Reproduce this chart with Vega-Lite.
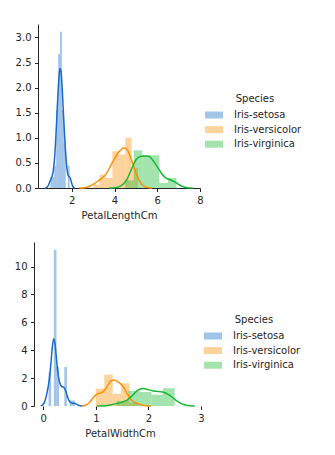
{
  "$schema": "https://vega.github.io/schema/vega-lite/v6.json",
  "padding": {"left": 14, "top": 24, "right": 0, "bottom": 0},
  "background": "white",
  "config": {
    "view": {"stroke": null},
    "font": "DejaVu Sans",
    "axis": {
      "grid": false,
      "domainColor": "#262626",
      "domainWidth": 1,
      "tickColor": "#262626",
      "tickWidth": 1,
      "tickSize": 3.5,
      "labelFont": "DejaVu Sans",
      "labelFontSize": 10,
      "labelColor": "#262626",
      "labelPadding": 3.5,
      "labelOverlap": false,
      "labelFlush": false,
      "titleFont": "DejaVu Sans",
      "titleFontSize": 10,
      "titleFontWeight": "normal",
      "titleColor": "#262626",
      "titlePadding": 5
    },
    "legend": {
      "orient": "none",
      "titleFont": "DejaVu Sans",
      "titleFontSize": 10,
      "titleFontWeight": "normal",
      "titleColor": "#262626",
      "labelFont": "DejaVu Sans",
      "labelFontSize": 10,
      "labelColor": "#262626",
      "symbolType": "M-1.8,-0.7H1.8V0.7H-1.8Z",
      "symbolSize": 100,
      "symbolStrokeWidth": 0,
      "symbolOpacity": 0.4,
      "labelOffset": 15,
      "rowPadding": 4.6,
      "titlePadding": 6,
      "titleAnchor": "middle"
    }
  },
  "datasets": {
    "pl_hist": [
      {"Species": "Iris-setosa", "start": 1.00, "end": 1.09, "density": 0.222},
      {"Species": "Iris-setosa", "start": 1.09, "end": 1.18, "density": 0.222},
      {"Species": "Iris-setosa", "start": 1.18, "end": 1.27, "density": 0.444},
      {"Species": "Iris-setosa", "start": 1.27, "end": 1.36, "density": 1.556},
      {"Species": "Iris-setosa", "start": 1.36, "end": 1.45, "density": 2.667},
      {"Species": "Iris-setosa", "start": 1.45, "end": 1.54, "density": 3.111},
      {"Species": "Iris-setosa", "start": 1.54, "end": 1.63, "density": 1.556},
      {"Species": "Iris-setosa", "start": 1.63, "end": 1.72, "density": 0.889},
      {"Species": "Iris-setosa", "start": 1.81, "end": 1.90, "density": 0.444},
      {"Species": "Iris-versicolor", "start": 3.0, "end": 3.3, "density": 0.067},
      {"Species": "Iris-versicolor", "start": 3.3, "end": 3.6, "density": 0.267},
      {"Species": "Iris-versicolor", "start": 3.6, "end": 3.9, "density": 0.2},
      {"Species": "Iris-versicolor", "start": 3.9, "end": 4.2, "density": 0.733},
      {"Species": "Iris-versicolor", "start": 4.2, "end": 4.5, "density": 0.667},
      {"Species": "Iris-versicolor", "start": 4.5, "end": 4.8, "density": 1.0},
      {"Species": "Iris-versicolor", "start": 4.8, "end": 5.1, "density": 0.4},
      {"Species": "Iris-virginica", "start": 4.5, "end": 4.9, "density": 0.15},
      {"Species": "Iris-virginica", "start": 4.9, "end": 5.3, "density": 0.75},
      {"Species": "Iris-virginica", "start": 5.3, "end": 5.7, "density": 0.65},
      {"Species": "Iris-virginica", "start": 5.7, "end": 6.1, "density": 0.65},
      {"Species": "Iris-virginica", "start": 6.1, "end": 6.5, "density": 0.1},
      {"Species": "Iris-virginica", "start": 6.5, "end": 6.9, "density": 0.2}
    ],
    "pl_kde": [
      {"Species": "Iris-setosa", "x": 0.76, "density": 0.001},
      {"Species": "Iris-setosa", "x": 0.8, "density": 0.0043},
      {"Species": "Iris-setosa", "x": 0.85, "density": 0.0176},
      {"Species": "Iris-setosa", "x": 0.9, "density": 0.0498},
      {"Species": "Iris-setosa", "x": 0.95, "density": 0.1008},
      {"Species": "Iris-setosa", "x": 1.0, "density": 0.155},
      {"Species": "Iris-setosa", "x": 1.05, "density": 0.2036},
      {"Species": "Iris-setosa", "x": 1.1, "density": 0.267},
      {"Species": "Iris-setosa", "x": 1.15, "density": 0.391},
      {"Species": "Iris-setosa", "x": 1.2, "density": 0.621},
      {"Species": "Iris-setosa", "x": 1.25, "density": 0.972},
      {"Species": "Iris-setosa", "x": 1.3, "density": 1.404},
      {"Species": "Iris-setosa", "x": 1.35, "density": 1.841},
      {"Species": "Iris-setosa", "x": 1.4, "density": 2.199},
      {"Species": "Iris-setosa", "x": 1.45, "density": 2.383},
      {"Species": "Iris-setosa", "x": 1.5, "density": 2.318},
      {"Species": "Iris-setosa", "x": 1.55, "density": 2.006},
      {"Species": "Iris-setosa", "x": 1.6, "density": 1.574},
      {"Species": "Iris-setosa", "x": 1.65, "density": 1.153},
      {"Species": "Iris-setosa", "x": 1.7, "density": 0.789},
      {"Species": "Iris-setosa", "x": 1.75, "density": 0.491},
      {"Species": "Iris-setosa", "x": 1.8, "density": 0.303},
      {"Species": "Iris-setosa", "x": 1.85, "density": 0.237},
      {"Species": "Iris-setosa", "x": 1.9, "density": 0.218},
      {"Species": "Iris-setosa", "x": 1.95, "density": 0.168},
      {"Species": "Iris-setosa", "x": 2.0, "density": 0.091},
      {"Species": "Iris-setosa", "x": 2.05, "density": 0.034},
      {"Species": "Iris-setosa", "x": 2.1, "density": 0.008},
      {"Species": "Iris-setosa", "x": 2.14, "density": 0.002},
      {"Species": "Iris-versicolor", "x": 2.35, "density": 0.0004},
      {"Species": "Iris-versicolor", "x": 2.4, "density": 0.0008},
      {"Species": "Iris-versicolor", "x": 2.6, "density": 0.007},
      {"Species": "Iris-versicolor", "x": 2.8, "density": 0.0295},
      {"Species": "Iris-versicolor", "x": 3.0, "density": 0.0711},
      {"Species": "Iris-versicolor", "x": 3.2, "density": 0.1293},
      {"Species": "Iris-versicolor", "x": 3.4, "density": 0.1964},
      {"Species": "Iris-versicolor", "x": 3.6, "density": 0.2759},
      {"Species": "Iris-versicolor", "x": 3.8, "density": 0.4257},
      {"Species": "Iris-versicolor", "x": 4.0, "density": 0.5875},
      {"Species": "Iris-versicolor", "x": 4.2, "density": 0.7162},
      {"Species": "Iris-versicolor", "x": 4.3, "density": 0.7569},
      {"Species": "Iris-versicolor", "x": 4.4, "density": 0.797},
      {"Species": "Iris-versicolor", "x": 4.5, "density": 0.7968},
      {"Species": "Iris-versicolor", "x": 4.6, "density": 0.7589},
      {"Species": "Iris-versicolor", "x": 4.8, "density": 0.5513},
      {"Species": "Iris-versicolor", "x": 5.0, "density": 0.2959},
      {"Species": "Iris-versicolor", "x": 5.2, "density": 0.1147},
      {"Species": "Iris-versicolor", "x": 5.4, "density": 0.0281},
      {"Species": "Iris-versicolor", "x": 5.6, "density": 0.0037},
      {"Species": "Iris-versicolor", "x": 5.75, "density": 0.0005},
      {"Species": "Iris-virginica", "x": 3.74, "density": 0.0003},
      {"Species": "Iris-virginica", "x": 3.8, "density": 0.0007},
      {"Species": "Iris-virginica", "x": 4.0, "density": 0.0051},
      {"Species": "Iris-virginica", "x": 4.2, "density": 0.0224},
      {"Species": "Iris-virginica", "x": 4.4, "density": 0.0715},
      {"Species": "Iris-virginica", "x": 4.6, "density": 0.1861},
      {"Species": "Iris-virginica", "x": 4.8, "density": 0.3791},
      {"Species": "Iris-virginica", "x": 5.0, "density": 0.5604},
      {"Species": "Iris-virginica", "x": 5.2, "density": 0.6289},
      {"Species": "Iris-virginica", "x": 5.4, "density": 0.6365},
      {"Species": "Iris-virginica", "x": 5.6, "density": 0.6341},
      {"Species": "Iris-virginica", "x": 5.8, "density": 0.5494},
      {"Species": "Iris-virginica", "x": 6.0, "density": 0.4266},
      {"Species": "Iris-virginica", "x": 6.2, "density": 0.2901},
      {"Species": "Iris-virginica", "x": 6.4, "density": 0.2023},
      {"Species": "Iris-virginica", "x": 6.6, "density": 0.1636},
      {"Species": "Iris-virginica", "x": 6.8, "density": 0.1268},
      {"Species": "Iris-virginica", "x": 7.0, "density": 0.0722},
      {"Species": "Iris-virginica", "x": 7.2, "density": 0.0266},
      {"Species": "Iris-virginica", "x": 7.4, "density": 0.006},
      {"Species": "Iris-virginica", "x": 7.6, "density": 0.0008},
      {"Species": "Iris-virginica", "x": 7.66, "density": 0.0004}
    ],
    "pw_hist": [
      {"Species": "Iris-setosa", "start": 0.10, "end": 0.15, "density": 2.4},
      {"Species": "Iris-setosa", "start": 0.20, "end": 0.25, "density": 11.2},
      {"Species": "Iris-setosa", "start": 0.25, "end": 0.30, "density": 2.8},
      {"Species": "Iris-setosa", "start": 0.40, "end": 0.45, "density": 2.8},
      {"Species": "Iris-setosa", "start": 0.50, "end": 0.55, "density": 0.4},
      {"Species": "Iris-setosa", "start": 0.55, "end": 0.60, "density": 0.4},
      {"Species": "Iris-versicolor", "start": 1.0, "end": 1.16, "density": 1.25},
      {"Species": "Iris-versicolor", "start": 1.16, "end": 1.32, "density": 2.25},
      {"Species": "Iris-versicolor", "start": 1.32, "end": 1.48, "density": 0.875},
      {"Species": "Iris-versicolor", "start": 1.48, "end": 1.64, "density": 1.625},
      {"Species": "Iris-versicolor", "start": 1.64, "end": 1.8, "density": 0.25},
      {"Species": "Iris-virginica", "start": 1.4, "end": 1.62, "density": 0.364},
      {"Species": "Iris-virginica", "start": 1.62, "end": 1.84, "density": 1.091},
      {"Species": "Iris-virginica", "start": 1.84, "end": 2.06, "density": 1.0},
      {"Species": "Iris-virginica", "start": 2.06, "end": 2.28, "density": 0.818},
      {"Species": "Iris-virginica", "start": 2.28, "end": 2.5, "density": 1.273}
    ],
    "pw_kde": [
      {"Species": "Iris-setosa", "x": -0.05, "density": 0.0091},
      {"Species": "Iris-setosa", "x": -0.025, "density": 0.038},
      {"Species": "Iris-setosa", "x": 0.0, "density": 0.123},
      {"Species": "Iris-setosa", "x": 0.025, "density": 0.311},
      {"Species": "Iris-setosa", "x": 0.05, "density": 0.6227},
      {"Species": "Iris-setosa", "x": 0.075, "density": 1.034},
      {"Species": "Iris-setosa", "x": 0.1, "density": 1.545},
      {"Species": "Iris-setosa", "x": 0.125, "density": 2.273},
      {"Species": "Iris-setosa", "x": 0.15, "density": 3.299},
      {"Species": "Iris-setosa", "x": 0.175, "density": 4.347},
      {"Species": "Iris-setosa", "x": 0.2, "density": 4.82},
      {"Species": "Iris-setosa", "x": 0.225, "density": 4.393},
      {"Species": "Iris-setosa", "x": 0.25, "density": 3.405},
      {"Species": "Iris-setosa", "x": 0.275, "density": 2.46},
      {"Species": "Iris-setosa", "x": 0.3, "density": 1.85},
      {"Species": "Iris-setosa", "x": 0.325, "density": 1.531},
      {"Species": "Iris-setosa", "x": 0.35, "density": 1.398},
      {"Species": "Iris-setosa", "x": 0.375, "density": 1.368},
      {"Species": "Iris-setosa", "x": 0.4, "density": 1.303},
      {"Species": "Iris-setosa", "x": 0.425, "density": 1.095},
      {"Species": "Iris-setosa", "x": 0.45, "density": 0.786},
      {"Species": "Iris-setosa", "x": 0.475, "density": 0.5046},
      {"Species": "Iris-setosa", "x": 0.5, "density": 0.3255},
      {"Species": "Iris-setosa", "x": 0.525, "density": 0.2375},
      {"Species": "Iris-setosa", "x": 0.55, "density": 0.204},
      {"Species": "Iris-setosa", "x": 0.575, "density": 0.1953},
      {"Species": "Iris-setosa", "x": 0.6, "density": 0.1833},
      {"Species": "Iris-setosa", "x": 0.625, "density": 0.1492},
      {"Species": "Iris-setosa", "x": 0.65, "density": 0.0982},
      {"Species": "Iris-setosa", "x": 0.675, "density": 0.0508},
      {"Species": "Iris-setosa", "x": 0.7, "density": 0.0203},
      {"Species": "Iris-setosa", "x": 0.725, "density": 0.0063},
      {"Species": "Iris-setosa", "x": 0.75, "density": 0.0015},
      {"Species": "Iris-versicolor", "x": 0.73, "density": 0.0072},
      {"Species": "Iris-versicolor", "x": 0.75, "density": 0.0137},
      {"Species": "Iris-versicolor", "x": 0.8, "density": 0.0547},
      {"Species": "Iris-versicolor", "x": 0.85, "density": 0.1621},
      {"Species": "Iris-versicolor", "x": 0.9, "density": 0.36},
      {"Species": "Iris-versicolor", "x": 0.95, "density": 0.6072},
      {"Species": "Iris-versicolor", "x": 1.0, "density": 0.8041},
      {"Species": "Iris-versicolor", "x": 1.05, "density": 0.8941},
      {"Species": "Iris-versicolor", "x": 1.1, "density": 0.9413},
      {"Species": "Iris-versicolor", "x": 1.15, "density": 1.0657},
      {"Species": "Iris-versicolor", "x": 1.2, "density": 1.318},
      {"Species": "Iris-versicolor", "x": 1.25, "density": 1.619},
      {"Species": "Iris-versicolor", "x": 1.3, "density": 1.824},
      {"Species": "Iris-versicolor", "x": 1.35, "density": 1.861},
      {"Species": "Iris-versicolor", "x": 1.4, "density": 1.781},
      {"Species": "Iris-versicolor", "x": 1.45, "density": 1.656},
      {"Species": "Iris-versicolor", "x": 1.5, "density": 1.47},
      {"Species": "Iris-versicolor", "x": 1.55, "density": 1.19},
      {"Species": "Iris-versicolor", "x": 1.6, "density": 0.8573},
      {"Species": "Iris-versicolor", "x": 1.65, "density": 0.5623},
      {"Species": "Iris-versicolor", "x": 1.7, "density": 0.3589},
      {"Species": "Iris-versicolor", "x": 1.75, "density": 0.238},
      {"Species": "Iris-versicolor", "x": 1.8, "density": 0.1627},
      {"Species": "Iris-versicolor", "x": 1.85, "density": 0.1043},
      {"Species": "Iris-versicolor", "x": 1.9, "density": 0.0567},
      {"Species": "Iris-versicolor", "x": 1.95, "density": 0.0244},
      {"Species": "Iris-versicolor", "x": 2.0, "density": 0.008},
      {"Species": "Iris-versicolor", "x": 2.05, "density": 0.002},
      {"Species": "Iris-virginica", "x": 1.02, "density": 0.0007},
      {"Species": "Iris-virginica", "x": 1.1, "density": 0.0045},
      {"Species": "Iris-virginica", "x": 1.2, "density": 0.0257},
      {"Species": "Iris-virginica", "x": 1.3, "density": 0.0864},
      {"Species": "Iris-virginica", "x": 1.4, "density": 0.1821},
      {"Species": "Iris-virginica", "x": 1.5, "density": 0.28},
      {"Species": "Iris-virginica", "x": 1.6, "density": 0.4379},
      {"Species": "Iris-virginica", "x": 1.7, "density": 0.7722},
      {"Species": "Iris-virginica", "x": 1.8, "density": 1.1328},
      {"Species": "Iris-virginica", "x": 1.9, "density": 1.2483},
      {"Species": "Iris-virginica", "x": 2.0, "density": 1.1754},
      {"Species": "Iris-virginica", "x": 2.1, "density": 1.0832},
      {"Species": "Iris-virginica", "x": 2.2, "density": 1.0332},
      {"Species": "Iris-virginica", "x": 2.3, "density": 0.9712},
      {"Species": "Iris-virginica", "x": 2.4, "density": 0.7778},
      {"Species": "Iris-virginica", "x": 2.5, "density": 0.4861},
      {"Species": "Iris-virginica", "x": 2.6, "density": 0.2232},
      {"Species": "Iris-virginica", "x": 2.7, "density": 0.0679},
      {"Species": "Iris-virginica", "x": 2.8, "density": 0.0124},
      {"Species": "Iris-virginica", "x": 2.88, "density": 0.0021}
    ]
  },
  "columns": 1,
  "concat": [
    {
      "width": 162,
      "height": 164,
      "layer": [
        {
          "data": {"name": "pl_hist"},
          "mark": {"type": "rect", "opacity": 0.4},
          "encoding": {
            "x": {"field": "start", "type": "quantitative", "scale": {"domain": [0.42, 8.0], "nice": false, "zero": false},
                  "axis": {"values": [2, 4, 6, 8], "format": "d", "title": "PetalLengthCm"}},
            "x2": {"field": "end"},
            "y": {"field": "density", "type": "quantitative", "scale": {"domain": [0, 3.267], "nice": false},
                  "axis": {"values": [0, 0.5, 1, 1.5, 2, 2.5, 3], "format": ".1f", "title": null}},
            "y2": {"datum": 0},
            "color": {"field": "Species", "type": "nominal",
                      "scale": {"domain": ["Iris-setosa", "Iris-versicolor", "Iris-virginica"], "range": ["#196bc8", "#fc9105", "#16b934"]},
                      "legend": {"title": "Species", "legendX": 171, "legendY": 70}}
          }
        },
        {
          "data": {"name": "pl_kde"},
          "mark": {"type": "line", "strokeWidth": 1.5, "interpolate": "monotone"},
          "encoding": {
            "x": {"field": "x", "type": "quantitative",
                  "axis": {"values": [2, 4, 6, 8], "format": "d", "title": "PetalLengthCm"}},
            "y": {"field": "density", "type": "quantitative",
                  "axis": {"values": [0, 0.5, 1, 1.5, 2, 2.5, 3], "format": ".1f", "title": null}},
            "color": {"field": "Species", "type": "nominal", "legend": null}
          }
        }
      ]
    },
    {
      "width": 164,
      "height": 164,
      "layer": [
        {
          "data": {"name": "pw_hist"},
          "mark": {"type": "rect", "opacity": 0.4},
          "encoding": {
            "x": {"field": "start", "type": "quantitative", "scale": {"domain": [-0.101, 3.02], "nice": false, "zero": false},
                  "axis": {"values": [0, 1, 2, 3], "format": "d", "title": "PetalWidthCm", "domain": false}},
            "x2": {"field": "end"},
            "y": {"field": "density", "type": "quantitative", "scale": {"domain": [0, 11.76], "nice": false},
                  "axis": {"values": [0, 2, 4, 6, 8, 10], "format": "d", "title": null, "offset": 4}},
            "y2": {"datum": 0},
            "color": {"field": "Species", "type": "nominal",
                      "scale": {"domain": ["Iris-setosa", "Iris-versicolor", "Iris-virginica"], "range": ["#196bc8", "#fc9105", "#16b934"]},
                      "legend": {"title": "Species", "legendX": 170, "legendY": 73}}
          }
        },
        {
          "data": {"name": "pw_kde"},
          "mark": {"type": "line", "strokeWidth": 1.5, "interpolate": "monotone"},
          "encoding": {
            "x": {"field": "x", "type": "quantitative",
                  "axis": {"values": [0, 1, 2, 3], "format": "d", "title": "PetalWidthCm", "domain": false}},
            "y": {"field": "density", "type": "quantitative",
                  "axis": {"values": [0, 2, 4, 6, 8, 10], "format": "d", "title": null, "offset": 4}},
            "color": {"field": "Species", "type": "nominal", "legend": null}
          }
        },
        {
          "mark": {"type": "rule", "color": "#262626", "strokeWidth": 1},
          "encoding": {
            "x": {"datum": -0.177, "type": "quantitative",
                  "axis": {"values": [0, 1, 2, 3], "format": "d", "title": "PetalWidthCm", "domain": false}},
            "x2": {"datum": 3.02},
            "y": {"datum": 0, "type": "quantitative",
                  "axis": {"values": [0, 2, 4, 6, 8, 10], "format": "d", "title": null, "offset": 4}}
          }
        }
      ]
    }
  ],
  "spacing": 22,
  "align": "none",
  "bounds": "full",
  "resolve": {"legend": {"color": "independent"}, "scale": {"x": "independent", "y": "independent"}}
}
